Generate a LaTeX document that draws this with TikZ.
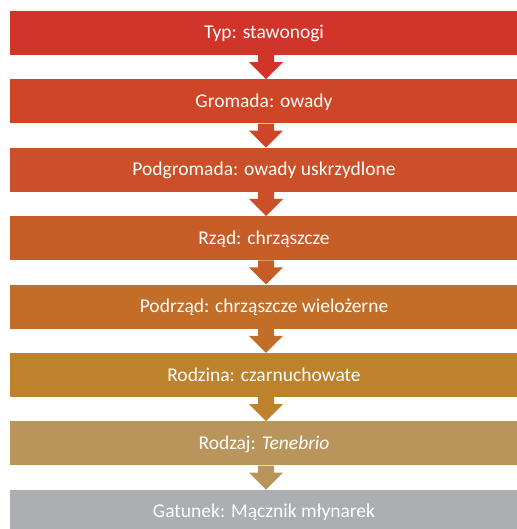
\documentclass[tikz,border=0pt]{standalone}
\usepackage{fontspec}
\setmainfont{Carlito}
\usepackage{tikz}
\usetikzlibrary{positioning, calc}
\definecolor{cTyp}{HTML}{D1352A}
\definecolor{cGromada}{HTML}{CF4528}
\definecolor{cPodgromada}{HTML}{CB4F28}
\definecolor{cRzad}{HTML}{C65D27}
\definecolor{cPodrzad}{HTML}{C26E29}
\definecolor{cRodzina}{HTML}{BE812C}
\definecolor{cRodzaj}{HTML}{B9955C}
\definecolor{cGatunek}{HTML}{ADAEB2}
\tikzstyle{block} = [rectangle, minimum width=508pt, minimum height=44pt, inner sep=0pt, text=white, text height=14pt, text depth=2pt, font=\fontsize{19.5}{23}\selectfont]

\begin{document}
\begin{tikzpicture}[x=1pt, y=1pt]
  \useasboundingbox (0,0) rectangle (516,-529);
  \node[block, fill=cTyp] (typ) at (264,-33) {Typ: stawonogi};
  \node[block, fill=cGromada] (gromada) at (264,-101.4) {Gromada: owady};
  \node[block, fill=cPodgromada] (podgromada) at (264,-169.8) {Podgromada: owady uskrzydlone};
  \node[block, fill=cRzad] (rzad) at (264,-238.2) {Rząd: chrząszcze};
  \node[block, fill=cPodrzad] (podrzad) at (264,-306.6) {Podrząd: chrząszcze wielożerne};
  \node[block, fill=cRodzina] (rodzina) at (264,-375) {Rodzina: czarnuchowate};
  \node[block, fill=cRodzaj] (rodzaj) at (264,-443.4) {Rodzaj: \textit{Tenebrio}};
  \node[block, fill=cGatunek] (gatunek) at (264,-511.8) {Gatunek: Mącznik młynarek};

  % strzalki miedzy poziomami
  \foreach \a/\b/\c in {typ/gromada/cTyp, gromada/podgromada/cGromada, podgromada/rzad/cPodgromada, rzad/podrzad/cRzad, podrzad/rodzina/cPodrzad, rodzina/rodzaj/cRodzina, rodzaj/gatunek/cRodzaj}
    \fill[\c] ($(\a.south)+(-6,0)$) -- ($(\a.south)+(-6,-7)$) -- ($(\a.south)+(-15,-7)$)
      -- ($(\b.north)+(2,0)$) -- ($(\a.south)+(19,-7)$) -- ($(\a.south)+(10,-7)$)
      -- ($(\a.south)+(10,0)$) -- cycle;
\end{tikzpicture}
\end{document}
